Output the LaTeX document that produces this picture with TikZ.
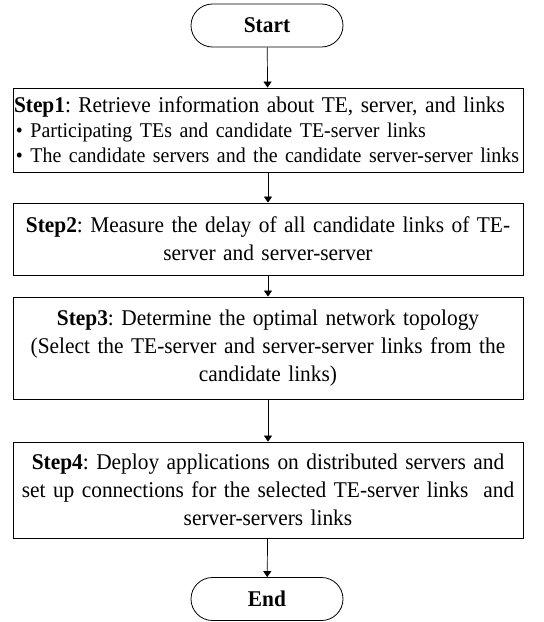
\documentclass[tikz,border=0pt]{standalone}
\usepackage{fontspec}
\setmainfont{Liberation Serif}
\newfontfamily\stepfont[FakeStretch=0.95]{Liberation Serif}
\frenchspacing
\usetikzlibrary{arrows.meta,shapes.misc}
\begin{document}
\begin{tikzpicture}[x=1pt,y=-1pt,
  term/.style={draw,line width=0.8pt,rounded rectangle,minimum width=152pt,minimum height=43pt,inner sep=0pt,font=\stepfont\fontsize{22.5}{25}\selectfont\bfseries},
  stepbox/.style={draw,line width=0.8pt,minimum width=510pt,inner sep=0pt,text width=508pt,align=center,font=\stepfont\fontsize{22.5}{28}\selectfont},
  flow/.style={line width=0.7pt,-{Triangle[width=8pt,length=6pt]}}]
\useasboundingbox (0,0) rectangle (544,622);
\node[term] (start) at (267,25.5) {Start};
\node[stepbox,minimum height=84pt,align=left] (s1) at (268,130) {%
  \textbf{Step1}: Retrieve information about TE, server, and links\\[-3pt]
  {\fontsize{21}{24}\selectfont\hspace*{2pt}• Participating TEs and candidate TE-server links}\\[-3pt]
  {\fontsize{21}{24}\selectfont\hspace*{2pt}• The candidate servers and the candidate server-server links}};
\node[stepbox,minimum height=72pt] (s2) at (268,239) {\textbf{Step2}: Measure the delay of all candidate links of TE-\\server and server-server};
\node[stepbox,minimum height=102pt] (s3) at (268,348) {\textbf{Step3}: Determine the optimal network topology\\(Select the TE-server and server-server links from the\\candidate links)};
\node[stepbox,minimum height=96pt] (s4) at (268,490) {\textbf{Step4}: Deploy applications on distributed servers and\\set up connections for the selected TE-server links\ \ and\\server-servers links};
\node[term] (end) at (267,599) {End};
\draw[flow] (start) -- (s1);
\draw[flow] (s1) -- (s2);
\draw[flow] (s2) -- (s3);
\draw[flow] (s3) -- (s4);
\draw[flow] (s4) -- (end);
\end{tikzpicture}
\end{document}
